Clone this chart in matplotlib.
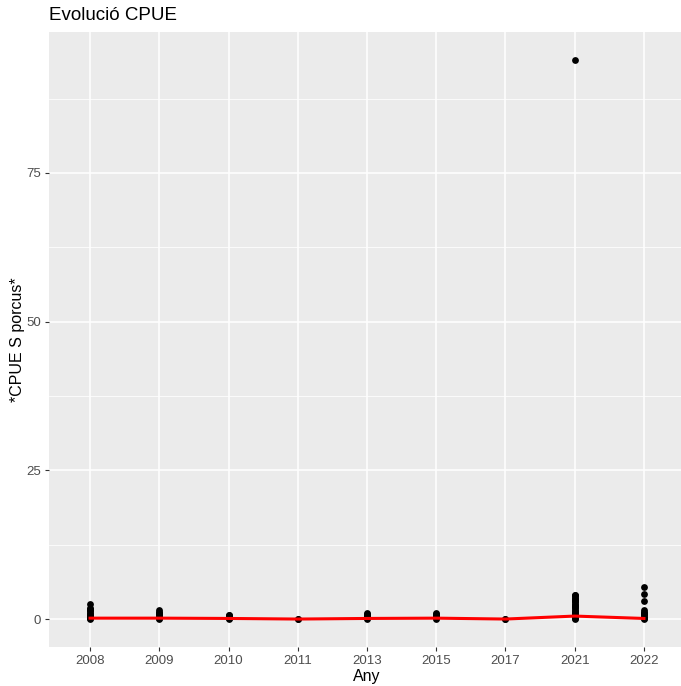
import matplotlib
matplotlib.use("Agg")
import matplotlib.pyplot as plt
import numpy as np

plt.rcParams['font.family'] = ['Liberation Sans', 'DejaVu Sans']

years = ["2008", "2009", "2010", "2011", "2013", "2015", "2017", "2021", "2022"]

cpue_2008 = [0.0, 0.1, 0.2, 0.3, 0.5, 0.7, 0.9, 1.1, 1.3, 1.5, 1.7, 1.9, 2.6]
cpue_2009 = [0.0, 0.1, 0.2, 0.4, 0.6, 0.8, 1.0, 1.2, 1.5]
cpue_2010 = [0.0, 0.1, 0.2, 0.4, 0.6, 0.7]
cpue_2011 = [0.0, 0.05]
cpue_2013 = [0.0, 0.1, 0.3, 0.5, 0.7, 0.9, 1.1]
cpue_2015 = [0.0, 0.1, 0.3, 0.5, 0.7, 0.9, 1.0]
cpue_2017 = [0.0, 0.05]
cpue_2021 = [0.0, 0.1, 0.2, 0.3, 0.4, 0.5, 0.6, 0.8, 1.0, 1.2, 1.4, 1.6, 1.8,
             2.0, 2.2, 2.4, 2.6, 2.8, 3.0, 3.2, 3.4, 3.6, 3.8, 4.0, 4.1, 94.0]
cpue_2022 = [0.0, 0.1, 0.2, 0.4, 0.6, 0.8, 1.0, 1.2, 1.5, 3.1, 4.2, 5.4]

cpue_by_year = [cpue_2008, cpue_2009, cpue_2010, cpue_2011, cpue_2013,
                cpue_2015, cpue_2017, cpue_2021, cpue_2022]

# summary line (red)
line_values = [0.15, 0.15, 0.1, 0.0, 0.1, 0.15, 0.0, 0.5, 0.1]

fig = plt.figure(figsize=(6.81, 6.86), dpi=100)
ax = fig.add_axes([48.5 / 681, 39 / 686, 637 / 681, 615 / 686])

ax.set_facecolor("#EBEBEB")
for s in ax.spines.values():
    s.set_visible(False)

xpos = np.arange(1, len(years) + 1)
for x, vals in zip(xpos, cpue_by_year):
    ax.scatter(np.full(len(vals), x), vals, s=24, color="black", zorder=3, linewidths=0)

ax.plot(xpos, line_values, color="#FF0000", lw=2.2, zorder=4)

ax.set_xlim(0.4, 9.6)
ax.set_ylim(-4.7, 98.7)
ax.set_xticks(xpos)
ax.set_xticklabels(years)
ax.set_yticks([0, 25, 50, 75])
ax.set_yticks([12.5, 37.5, 62.5, 87.5], minor=True)

ax.grid(which="major", color="white", lw=1.1)
ax.grid(which="minor", axis="y", color="white", lw=0.55)
ax.set_axisbelow(True)

ax.tick_params(axis="both", which="major", colors="#333333", labelcolor="#4D4D4D",
               labelsize=9.5, length=3, width=0.8, pad=2.5)
ax.tick_params(which="minor", length=0)

ax.set_xlabel("Any", fontsize=11.5, color="black", labelpad=2)
ax.set_ylabel("*CPUE S porcus*", fontsize=11.5, color="black")
ax.yaxis.set_label_coords((25 - 48.5) / 637, 0.5)
fig.text(49 / 681, 1 - 15 / 686, "Evolució CPUE", fontsize=13.5, ha="left", va="center")

fig.savefig("out.png", dpi=100)
